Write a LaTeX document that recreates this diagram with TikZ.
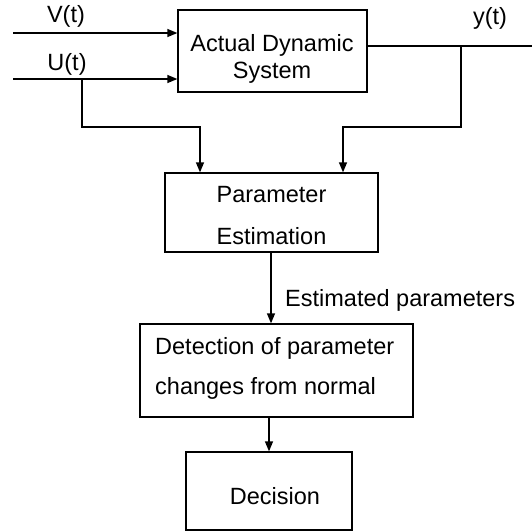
\documentclass[tikz,border=0pt]{standalone}
\usepackage{fontspec}
\setmainfont{Liberation Sans}
\usetikzlibrary{arrows.meta,calc}
\begin{document}
\begin{tikzpicture}[x=1pt,y=-1pt,
  box/.style={draw, line width=1.3pt, inner sep=0pt},
  txt/.style={font=\fontsize{23.5}{27}\selectfont, inner sep=0pt, align=center},
  wire/.style={line width=1.3pt},
  arr/.style={wire, -{Triangle[length=10pt,width=8pt]}}]
\useasboundingbox (0,0) rectangle (532,531);
% boxes
\node[box, minimum width=189, minimum height=82] (ads) at (272.5,51) {};
\node[box, minimum width=213, minimum height=79] (pe) at (271.5,212.5) {};
\node[box, minimum width=273, minimum height=93] (det) at (276.5,370.5) {};
\node[box, minimum width=166, minimum height=78] (dec) at (269,491) {};
% box texts
\node[txt, font=\fontsize{23.5}{27}\selectfont] (adst) at (272,58.5) {Actual Dynamic\\System};
\node[txt, font=\fontsize{23.5}{42}\selectfont] (pet) at (271.5,216) {Parameter\\Estimation};
\node[txt, font=\fontsize{23.5}{40}\selectfont, align=left, anchor=west] (dett) at (155,368) {Detection of parameter\\changes from normal};
\node[txt] (dect) at (275,496) {Decision};
% signal labels
\node[txt] (vl) at (66,16) {V(t)};
\node[txt] (ul) at (67,64) {U(t)};
\node[txt] (yl) at (490,18) {y(t)};
\node[txt, anchor=west] (epl) at (285,300) {Estimated parameters};
% coordinates
\coordinate (vin) at (13,33);
\coordinate (uin) at (13,79);
\coordinate (yout) at (532,46);
\coordinate (ub) at (82,79);
\coordinate (yb) at (461,46);
\coordinate (jl) at (200,127);
\coordinate (jr) at (343,127);
% connectors
\draw[arr] (vin) -- (ads.west |- vin);
\draw[arr] (uin) -- (ads.west |- uin);
\draw[wire] (ads.east |- yout) -- (yout);
\draw[arr] (ub) |- (jl) -- (pe.north -| jl);
\draw[arr] (yb) |- (jr) -- (pe.north -| jr);
\draw[arr] (pe.south -| 271,0) -- (det.north -| 271,0);
\draw[arr] (det.south -| 269,0) -- (dec.north);
\end{tikzpicture}
\end{document}
